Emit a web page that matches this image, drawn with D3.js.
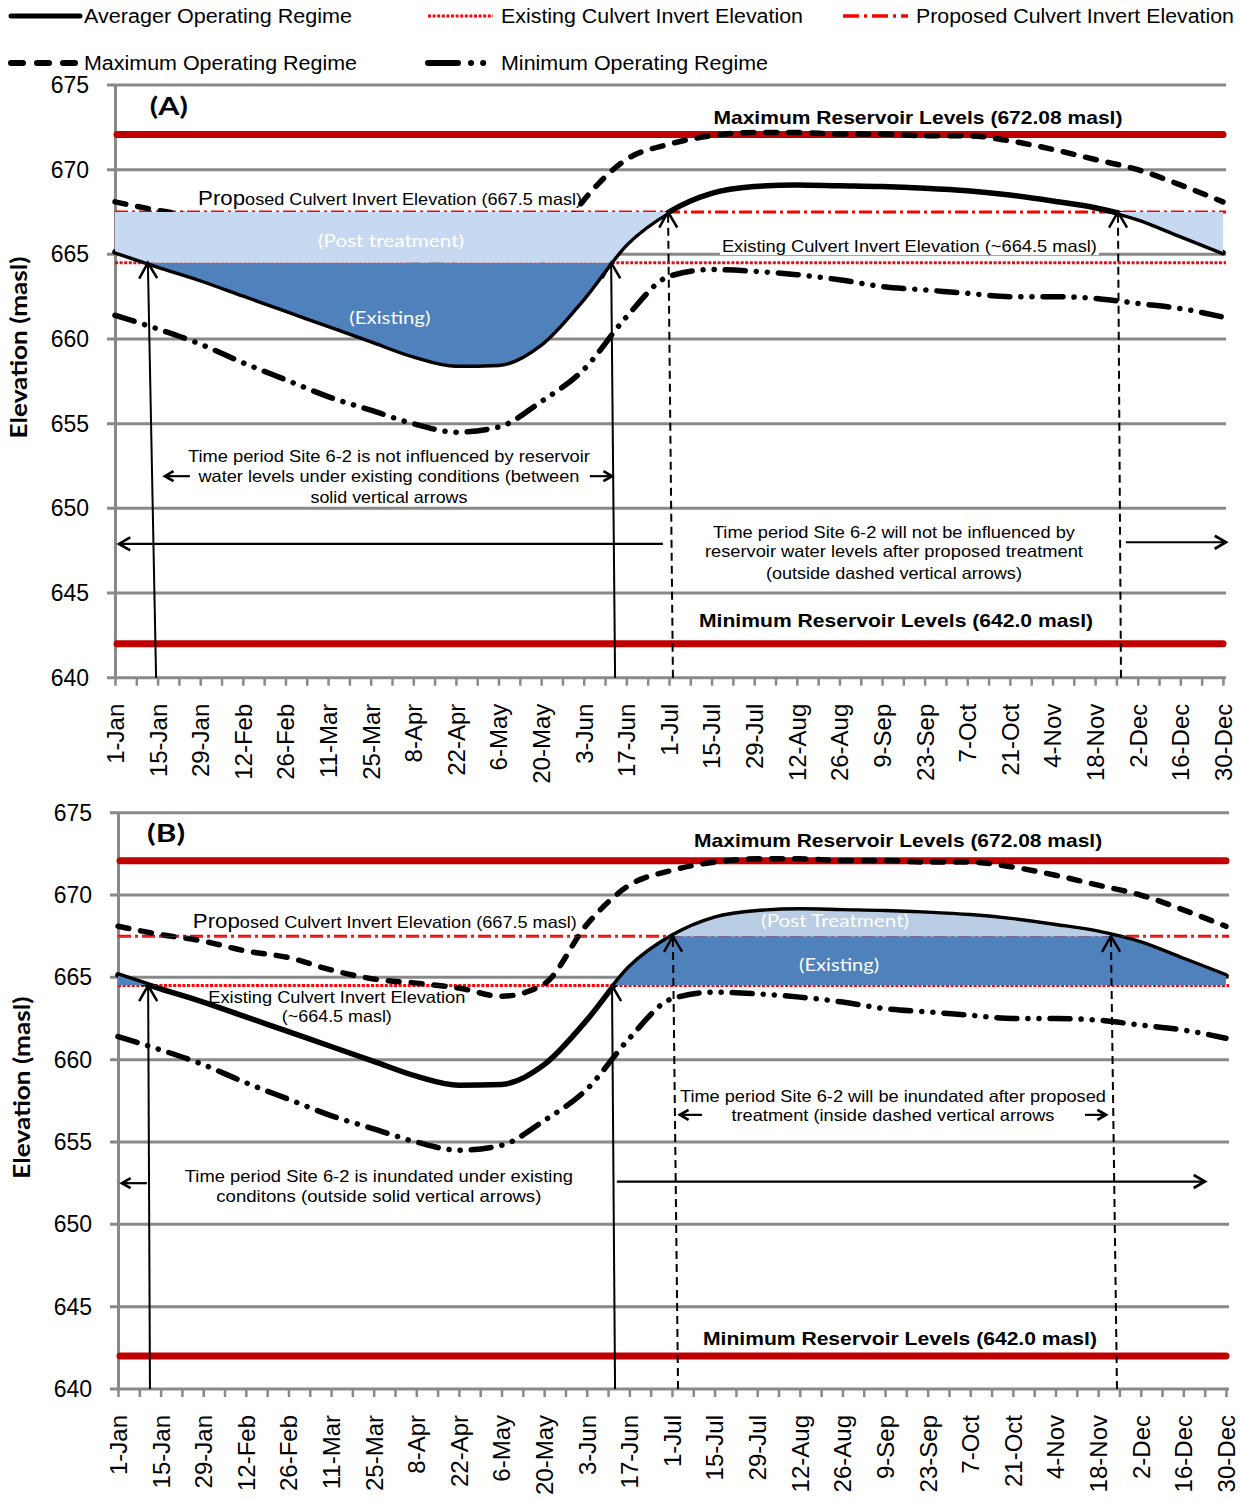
<!DOCTYPE html>
<html lang="en">
<head>
<meta charset="UTF-8">
<title>Site 6-2 reservoir operating regimes</title>
<script src="https://cdn.jsdelivr.net/npm/d3@7"></script>
<style>
  body { margin: 0; background: #fff; }
  svg { display: block; font-family: "Liberation Sans", Arial, sans-serif; }
</style>
</head>
<body>
<div id="chart"></div>
<script>
    // Day of year (leap year, 1-Jan = 0), one sample every 14 days
    const days = d3.range(0, 365, 14);
    const avgRegime = [665.15, 664.3, 663.5, 662.6, 661.7, 660.8, 659.9, 659.0, 658.45, 658.5, 659.7, 662.4, 665.6,
        667.5, 668.6, 669.0, 669.1, 669.05, 669.0, 668.9, 668.75, 668.5, 668.15, 667.75, 667.1, 666.1, 665.1];
    const maxRegime = [668.1, 667.6, 667.2, 666.6, 666.2, 665.45, 664.9, 664.65, 664.35, 663.85, 664.6, 668.2, 670.6,
        671.5, 672.0, 672.2, 672.2, 672.1, 672.1, 672.0, 672.0, 671.7, 671.2, 670.6, 670.0, 669.1, 668.1];
    const minRegime = [661.4, 660.6, 659.7, 658.6, 657.6, 656.6, 655.8, 655.0, 654.5, 654.8, 656.3, 658.2, 661.3,
        663.7, 664.1, 664.0, 663.8, 663.5, 663.1, 662.9, 662.7, 662.5, 662.5, 662.4, 662.1, 661.8, 661.3];

    const tickLabels = ["1-Jan", "15-Jan", "29-Jan", "12-Feb", "26-Feb", "11-Mar", "25-Mar", "8-Apr", "22-Apr",
        "6-May", "20-May", "3-Jun", "17-Jun", "1-Jul", "15-Jul", "29-Jul", "12-Aug", "26-Aug", "9-Sep", "23-Sep",
        "7-Oct", "21-Oct", "4-Nov", "18-Nov", "2-Dec", "16-Dec", "30-Dec"];
    const tickDays = d3.range(0, 365, 7);
    const yTicks = [640, 645, 650, 655, 660, 665, 670, 675];

    const existingInvert = 664.5;
    const proposedInvert = 667.5;
    const maxReservoir = 672.08;
    const minReservoir = 642.0;

    // Annotations, in chart units (day of year, elevation)
    const annotA = {
        solidArrows: [[13.5, 10.8], [164.3, 163.0]],
        dashedArrows: [[183.3, 181.7], [330.5, 329.5]],
        hArrows: [[24.6, 16.4, 651.9, 10], [156, 163.3, 651.9, 10], [180, 1.3, 647.9, 13], [332.1, 365, 648.0, 13]],
        labels: [
            {t: "(A)", day: 17.7, e: 673.2, size: 25, bold: true, family: "Lato", len: 38},
            {t: "Maximum Reservoir Levels (672.08 masl)", day: 263.8, e: 672.7, size: 19, bold: true, len: 409},
            {t: "(Post treatment)", day: 90.7, e: 665.43, size: 18, fill: "#fff", family: "Lato", len: 146},
            {t: "Existing Culvert Invert Elevation (~664.5 masl)", day: 199.4, e: 665.14, size: 16.5, anchor: "start", len: 375, bg: true},
            {t: "(Existing)", day: 90.3, e: 660.9, size: 18, fill: "#fff", family: "Lato", len: 81},
            {t: "Time period Site 6-2 is not influenced by reservoir", day: 90, e: 652.74, size: 16.5, len: 402},
            {t: "water levels under existing conditions (between", day: 90, e: 651.56, size: 16.5, len: 381},
            {t: "solid vertical arrows", day: 90, e: 650.32, size: 16.5, len: 157},
            {t: "Time period Site 6-2 will not be influenced by", day: 255.9, e: 648.25, size: 16.5, len: 362},
            {t: "reservoir water levels after proposed treatment", day: 255.9, e: 647.12, size: 16.5, len: 378},
            {t: "(outside dashed vertical arrows)", day: 255.9, e: 645.83, size: 16.5, len: 256},
            {t: "Minimum Reservoir Levels (642.0 masl)", day: 256.6, e: 643.0, size: 19, bold: true, len: 394}
        ],
        proposed: {day: 27.3, e: 667.92},
        titleE: 659.5
    };
    const annotB = {
        solidArrows: [[10.5, 9.9], [163.3, 162.3]],
        dashedArrows: [[184.0, 182.3], [328.2, 326.2]],
        hArrows: [[191.9, 184.6, 656.65, 10], [317.7, 324.6, 656.65, 10], [9.5, 1.3, 652.5, 10], [163.9, 357.1, 652.6, 13]],
        labels: [
            {t: "(B)", day: 15.8, e: 673.2, size: 25, bold: true, family: "Lato", len: 38},
            {t: "Maximum Reservoir Levels (672.08 masl)", day: 256.3, e: 672.9, size: 19, bold: true, len: 408},
            {t: "Existing Culvert Invert Elevation", day: 71.9, e: 663.45, size: 16.5, len: 257},
            {t: "(~664.5 masl)", day: 71.9, e: 662.3, size: 16.5, len: 110},
            {t: "(Post Treatment)", day: 235.6, e: 668.07, size: 18, fill: "#fff", family: "Lato", len: 148},
            {t: "(Existing)", day: 236.9, e: 665.4, size: 18, fill: "#fff", family: "Lato", len: 80},
            {t: "Time period Site 6-2 will be inundated after proposed", day: 254.6, e: 657.44, size: 16.5, len: 426},
            {t: "treatment (inside dashed vertical arrows", day: 254.6, e: 656.28, size: 16.5, len: 323},
            {t: "Time period Site 6-2 is inundated under existing", day: 85.7, e: 652.58, size: 16.5, len: 388},
            {t: "conditons (outside solid vertical arrows)", day: 85.7, e: 651.36, size: 16.5, len: 325},
            {t: "Minimum Reservoir Levels (642.0 masl)", day: 256.9, e: 642.67, size: 19, bold: true, len: 394}
        ],
        proposed: {day: 24.6, e: 668.0},
        titleE: 658.3
    };

    const grid = "#898989";
    const darkRed = "#C00000";
    const red = "#FF0000";
    const styles = {
        avg: {dash: null, w: 5.5},
        max: {dash: "11,12", w: 5.5},
        min: {dash: "20,11,0.1,11,0.1,11", w: 5.5},
        existing: {dash: "3,1.6", w: 3},
        proposed: {dash: "13,4,3,4", w: 3}
    };

    const svg = d3.select("#chart").append("svg")
        .attr("width", 1242)
        .attr("height", 1501);
    const defs = svg.append("defs");

    function arrow(g, x1, y1, x2, y2, head, w, dash) {
        const a = Math.atan2(y2 - y1, x2 - x1), s = Math.PI / 6;
        g.append("line")
            .attr("x1", x1).attr("y1", y1).attr("x2", x2).attr("y2", y2)
            .attr("stroke", "#000").attr("stroke-width", w)
            .attr("stroke-dasharray", dash);
        g.append("path")
            .attr("d", `M${x2 - head * Math.cos(a - s)},${y2 - head * Math.sin(a - s)}L${x2},${y2}` +
                `L${x2 - head * Math.cos(a + s)},${y2 - head * Math.sin(a + s)}`)
            .attr("fill", "none").attr("stroke", "#000").attr("stroke-width", w + 0.5);
    }

    function addLabel(g, x, y, L) {
        const t = g.append("text")
            .attr("x", x(L.day)).attr("y", y(L.e))
            .attr("text-anchor", L.anchor || "middle")
            .attr("font-size", L.size)
            .attr("font-weight", L.bold ? "bold" : "normal")
            .attr("font-family", L.family || null)
            .attr("fill", L.fill || "#000")
            .text(L.t);
        if (L.len) t.attr("textLength", L.len).attr("lengthAdjust", "spacingAndGlyphs");
        if (L.bg) {
            const b = t.node().getBBox();
            g.insert("rect", () => t.node())
                .attr("x", b.x - 2).attr("y", b.y).attr("width", b.width + 4).attr("height", b.height)
                .attr("fill", "#fff");
        }
        return t;
    }

    function drawPanel(p, annot) {
        const g = svg.append("g");
        const x = d3.scaleLinear().domain([0, 365]).range([p.left, p.right]);
        const y = d3.scaleLinear().domain([640, 675]).range([p.bottom, p.top]);

        // gridlines
        g.append("g").selectAll("line").data(yTicks).join("line")
            .attr("x1", x(0) - 8).attr("x2", x(365))
            .attr("y1", d => y(d)).attr("y2", d => y(d))
            .attr("stroke", grid).attr("stroke-width", 3);

        // axes
        const yAxis = g.append("g").attr("transform", `translate(${x(0)},0)`)
            .call(d3.axisLeft(y).tickValues(yTicks).tickSize(0).tickPadding(26).tickSizeOuter(0));
        yAxis.select(".domain").attr("stroke", grid).attr("stroke-width", 3);
        yAxis.selectAll("text").attr("font-size", 23).attr("fill", "#000")
            .attr("font-family", "Liberation Sans, Arial, sans-serif");

        const xAxis = g.append("g").attr("transform", `translate(0,${y(640)})`)
            .call(d3.axisBottom(x).tickValues(tickDays).tickSize(8).tickSizeOuter(0)
                .tickFormat(d => d % 14 === 0 ? tickLabels[d / 14] : ""));
        xAxis.select(".domain").remove();
        xAxis.selectAll(".tick line").attr("stroke", grid).attr("stroke-width", 2.5);
        xAxis.selectAll("text")
            .attr("font-size", 24).attr("fill", "#000")
            .attr("font-family", "Liberation Sans, Arial, sans-serif")
            .attr("transform", "rotate(-90)")
            .attr("x", -26).attr("y", 0).attr("dy", "0.35em")
            .attr("text-anchor", "end");

        // y title
        g.append("text")
            .attr("transform", `translate(${x(0) - 96},${y(annot.titleE)}) rotate(-90)`)
            .attr("text-anchor", "middle").attr("dy", "0.35em")
            .attr("font-size", 22).attr("font-weight", "bold").attr("font-family", "Lato")
            .attr("textLength", 182).attr("lengthAdjust", "spacingAndGlyphs")
            .text("Elevation (masl)");

        // reservoir limits
        g.append("g").selectAll("line").data([maxReservoir, minReservoir]).join("line")
            .attr("x1", x(0) + 2).attr("x2", x(365) - 3)
            .attr("y1", d => y(d)).attr("y2", d => y(d))
            .attr("stroke", darkRed).attr("stroke-width", 7).attr("stroke-linecap", "round");

        // culvert inverts
        [[existingInvert, styles.existing], [proposedInvert, styles.proposed]].forEach(([v, s]) => {
            g.append("line")
                .attr("x1", x(0)).attr("x2", x(365)).attr("y1", y(v)).attr("y2", y(v))
                .attr("stroke", red).attr("stroke-width", s.w).attr("stroke-dasharray", s.dash);
        });

        const line = d3.line().x((d, i) => x(days[i])).y(d => y(d)).curve(d3.curveMonotoneX);
        const areaTo = level => d3.area().x((d, i) => x(days[i])).y0(y(level)).y1(d => y(d)).curve(d3.curveMonotoneX);

        [[maxRegime, styles.max], [minRegime, styles.min], [avgRegime, styles.avg]].forEach(([vals, s]) => {
            g.append("path").datum(vals)
                .attr("d", line)
                .attr("fill", "none").attr("stroke", "#000")
                .attr("stroke-width", s.w).attr("stroke-dasharray", s.dash)
                .attr("stroke-linecap", "round").attr("stroke-linejoin", "round");
        });

        // clip bands
        const clip = (name, e0, e1) => {
            defs.append("clipPath").attr("id", `clip-${p.id}-${name}`).append("rect")
                .attr("x", x(0)).attr("width", x(365) - x(0))
                .attr("y", y(e1)).attr("height", y(e0) - y(e1));
            return `url(#clip-${p.id}-${name})`;
        };
        const band = clip("band", existingInvert, proposedInvert);
        const below = clip("below", 640, existingInvert);
        const above = clip("above", proposedInvert, 675);

        if (p.id === "A") {
            g.append("path").datum(avgRegime).attr("d", areaTo(existingInvert))
                .attr("fill", p.dark).attr("clip-path", below);
            g.append("path").datum(avgRegime).attr("d", areaTo(proposedInvert))
                .attr("fill", p.light).attr("clip-path", band);
        } else {
            g.append("path").datum(avgRegime).attr("d", areaTo(existingInvert))
                .attr("fill", p.dark).attr("clip-path", band);
            g.append("path").datum(avgRegime).attr("d", areaTo(proposedInvert))
                .attr("fill", p.light).attr("clip-path", above);
        }
        g.append("path").datum(avgRegime).attr("d", line)
            .attr("fill", "none").attr("stroke", "#000").attr("stroke-width", 1.3);

        // vertical arrows
        annot.solidArrows.forEach(([d0, d1]) =>
            arrow(g, x(d0), y(640), x(d1), y(existingInvert), 18, 2, null));
        annot.dashedArrows.forEach(([d0, d1]) =>
            arrow(g, x(d0), y(640), x(d1), y(proposedInvert), 18, 2, "8,5"));
        annot.hArrows.forEach(([d0, d1, e, h]) =>
            arrow(g, x(d0), y(e), x(d1), y(e), h, 2.2, null));

        annot.labels.forEach(L => addLabel(g, x, y, L));

        // "Proposed" label with the enlarged first letters
        const px = x(annot.proposed.day), py = y(annot.proposed.e);
        g.append("text").attr("x", px).attr("y", py).attr("font-size", 21)
            .attr("textLength", 47).attr("lengthAdjust", "spacingAndGlyphs").text("Prop");
        g.append("text").attr("x", px + 47).attr("y", py).attr("font-size", 16.5)
            .attr("textLength", 337).attr("lengthAdjust", "spacingAndGlyphs")
            .text("osed Culvert Invert Elevation (667.5 masl)");
    }

    drawPanel({id: "A", left: 115, right: 1226, top: 85, bottom: 677.7, light: "#C6D9F1", dark: "#4F81BD"}, annotA);
    drawPanel({id: "B", left: 118, right: 1229, top: 812.7, bottom: 1389, light: "#B9CDE5", dark: "#4F81BD"}, annotB);

    // Legend
    const legendItems = [
        {name: "Averager Operating Regime", x: 8, y: 16, len: 268, color: "#000", w: 5, dash: null, kw: 72},
        {name: "Existing Culvert Invert Elevation", x: 425, y: 16, len: 302, color: red, w: 3, dash: "3,1.6", kw: 68},
        {name: "Proposed Culvert Invert Elevation", x: 840, y: 16, len: 318, color: red, w: 3.5, dash: "16,5,3,5", kw: 68},
        {name: "Maximum Operating Regime", x: 8, y: 63, len: 273, color: "#000", w: 6, dash: "12,14", kw: 72},
        {name: "Minimum Operating Regime", x: 425, y: 63, len: 267, color: "#000", w: 6, dash: "30,13,0.1,12,0.1,40", kw: 62}
    ];
    const legend = svg.append("g");
    legendItems.forEach(d => {
        legend.append("line")
            .attr("x1", d.x + 3).attr("x2", d.x + d.kw).attr("y1", d.y).attr("y2", d.y)
            .attr("stroke", d.color).attr("stroke-width", d.w)
            .attr("stroke-dasharray", d.dash)
            .attr("stroke-linecap", d.color === red ? "butt" : "round");
        legend.append("text")
            .attr("x", d.x + 76).attr("y", d.y + 7)
            .attr("font-size", 20)
            .attr("textLength", d.len).attr("lengthAdjust", "spacingAndGlyphs")
            .text(d.name);
    });
</script>
</body>
</html>
